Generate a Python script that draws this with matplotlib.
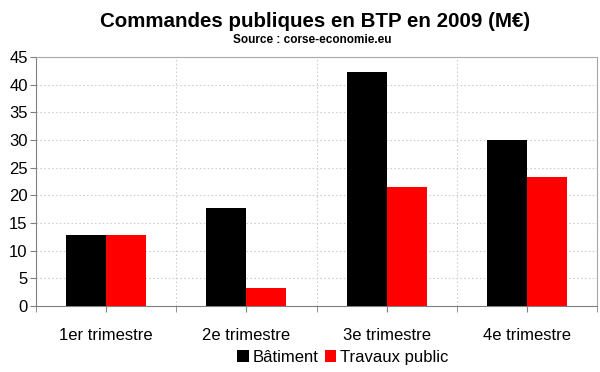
import numpy as np
import matplotlib.pyplot as plt
from matplotlib.ticker import MultipleLocator

# Data
trimestres = ['1er trimestre', '2e trimestre', '3e trimestre', '4e trimestre']
batiment = [12.8, 17.8, 42.2, 30.0]
travaux_public = [12.8, 3.2, 21.5, 23.3]

plt.rcParams['font.family'] = ['Liberation Sans', 'DejaVu Sans']

fig = plt.figure(figsize=(6, 3.72), dpi=100)
ax = fig.add_axes([0.06, 0.1774, 0.935, 0.6694])

x = np.arange(len(trimestres))
w = 0.286
ax.bar(x - w / 2, batiment, width=w, color='black', label='Bâtiment', zorder=3)
ax.bar(x + w / 2, travaux_public, width=w, color='#ff0000', label='Travaux public', zorder=3)

ax.set_xlim(-0.5, len(trimestres) - 0.5)
ax.set_ylim(0, 45)
ax.yaxis.set_major_locator(MultipleLocator(5))
ax.set_xticks(x)
ax.set_xticklabels(trimestres, fontsize=12)
ax.set_xticks(np.arange(-0.5, len(trimestres)), minor=True)
ax.tick_params(axis='y', labelsize=12, length=4, color='#808080', pad=2)
ax.tick_params(axis='x', which='both', length=4, color='#808080', pad=12)

ax.grid(axis='y', linestyle=(0, (1.5, 2)), color='#cfcfcf', linewidth=0.8, zorder=0)
ax.grid(axis='x', which='minor', linestyle=(0, (1.5, 2)), color='#cfcfcf', linewidth=0.8, zorder=0)

for side in ['left', 'bottom']:
    ax.spines[side].set_color('#808080')
for side in ['top', 'right']:
    ax.spines[side].set_color('#a8a8a8')

fig.text(0.525, 0.943, 'Commandes publiques en BTP en 2009 (M€)', ha='center', va='center',
         fontsize=14.8, fontweight='bold')
fig.text(0.52, 0.892, 'Source : corse-economie.eu', ha='center', va='center',
         fontsize=8.5, fontweight='bold')

fig.legend(loc='center', bbox_to_anchor=(0.571, 0.04), ncol=2, frameon=False, fontsize=12,
           handlelength=0.7, handleheight=0.7, handletextpad=0.2, columnspacing=0.4)

fig.savefig('out.png', dpi=100)
